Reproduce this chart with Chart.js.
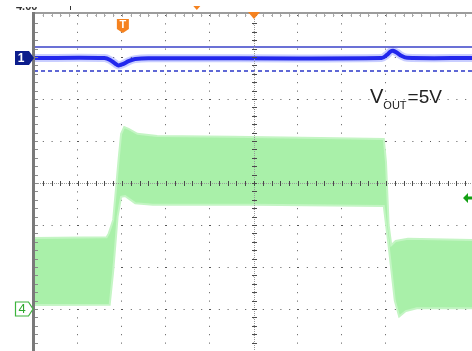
<!DOCTYPE html>
<html><head><meta charset="utf-8">
<script src="https://cdn.jsdelivr.net/npm/chart.js@4"></script>
<style>html,body{margin:0;padding:0;background:#fff;overflow:hidden}</style>
</head><body>
<canvas id="c" width="472" height="351"></canvas>
<script>
// ---- data (time in divisions, level in divisions from bottom of screen) ----
const ch1Time  = [0, 1.60, 1.73, 1.85, 1.92, 2.02, 2.15, 2.30, 2.60, 7.90, 8.02, 8.10, 8.16, 8.25, 8.35, 8.48, 9.955];
const ch1Level = [6.976, 6.975, 6.93, 6.84, 6.80, 6.83, 6.90, 6.95, 6.97, 6.976, 7.05, 7.13, 7.15, 7.10, 7.03, 6.98, 6.976];
const ch4UpperTime  = [0, 1.65, 1.70, 1.80, 1.93, 1.98, 2.05, 2.15, 2.35, 2.80, 4.50, 6.50, 7.95, 8.00, 8.06, 8.12, 8.22, 8.50, 9.955];
const ch4UpperLevel = [2.69, 2.71, 2.80, 3.12, 4.64, 5.17, 5.33, 5.29, 5.17, 5.12, 5.10, 5.07, 5.05, 4.50, 3.00, 2.52, 2.62, 2.67, 2.64];
const ch4LowerTime  = [0, 1.72, 1.80, 1.90, 1.98, 2.07, 2.30, 2.70, 5.00, 7.95, 8.05, 8.20, 8.30, 8.45, 8.70, 9.955];
const ch4LowerLevel = [1.095, 1.10, 1.90, 3.20, 3.67, 3.69, 3.52, 3.48, 3.48, 3.45, 2.60, 1.20, 0.82, 0.95, 1.02, 1.02];
const cursorSolid = 7.238;   // upper cursor line of channel 1
const cursorDashed = 6.667;  // lower cursor line of channel 1
const ch1Ground = 6.976, ch4Ground = 1.0, trigTime = 2.02, trigLevel = 3.643, trigPos = 5, delayMark = 3.70;
const xMax = 9.955, yMax = 8;
const label = {main: 'V', sub: 'OUT', rest: '=5V'};
const cornerText = '4.00';

const pts = (t, v) => t.map((x, i) => ({x, y: v[i]}));
const flat = (lvl) => [{x: 0, y: lvl}, {x: xMax, y: lvl}];

const scope = {
  id: 'scope',
  afterDraw(chart) {
    const ctx = chart.ctx, xs = chart.scales.x, ys = chart.scales.y, a = chart.chartArea;
    const X = v => xs.getPixelForValue(v), Y = v => ys.getPixelForValue(v);
    ctx.save();
    // centre graticule lines
    const cx = Math.round(X(5)) + 0.5, cy = Math.round(Y(4)) + 0.5;
    ctx.lineWidth = 1; ctx.strokeStyle = '#9a9a9a'; ctx.setLineDash([1, 1]);
    ctx.beginPath(); ctx.moveTo(cx, a.top); ctx.lineTo(cx, a.bottom); ctx.moveTo(a.left, cy); ctx.lineTo(a.right, cy); ctx.stroke();
    ctx.setLineDash([]); ctx.strokeStyle = '#4a4a4a';
    ctx.beginPath();
    for (let v = 0; v <= yMax + 0.01; v += 0.2) { const y = Math.round(Y(v)) + 0.5; ctx.moveTo(cx - 2.5, y); ctx.lineTo(cx + 2.5, y); }
    for (let t = 0; t <= xMax; t += 0.2) { const x = Math.round(X(t)) + 0.5; ctx.moveTo(x, cy - 2.5); ctx.lineTo(x, cy + 2.5); }
    ctx.stroke();
    // frame: top bar and left bar with ruler ticks
    ctx.fillStyle = '#9c9c9c'; ctx.fillRect(a.left - 2, a.top - 3, a.right - a.left + 2, 2);
    ctx.strokeStyle = '#a8a8a8';
    ctx.beginPath();
    for (let t = 0.2; t <= xMax; t += 0.2) { const x = Math.round(X(t)) + 0.5; ctx.moveTo(x, a.top - 1); ctx.lineTo(x, a.top + 2); }
    ctx.stroke();
    ctx.fillStyle = '#7a7a7a'; ctx.fillRect(a.left - 2, a.top - 3, 3, a.bottom - a.top + 3);
    ctx.strokeStyle = '#8a8a8a';
    ctx.beginPath();
    for (let v = 0; v <= yMax; v += 0.2) { const y = Math.round(Y(v)) + 0.5; ctx.moveTo(a.left + 1, y); ctx.lineTo(a.left + 4, y); }
    ctx.stroke();
    // channel 1 marker
    let y = Y(ch1Ground);
    ctx.fillStyle = '#0c1d8c';
    ctx.beginPath(); ctx.moveTo(15, y - 7); ctx.lineTo(29, y - 7); ctx.lineTo(34, y); ctx.lineTo(29, y + 7); ctx.lineTo(15, y + 7); ctx.closePath(); ctx.fill();
    ctx.fillStyle = '#fff'; ctx.font = 'bold 12px "Liberation Sans", Arial'; ctx.textAlign = 'center'; ctx.textBaseline = 'middle';
    ctx.fillText('1', 21, y + 0.5);
    // channel 4 marker
    y = Y(ch4Ground);
    ctx.fillStyle = '#fff'; ctx.strokeStyle = '#3cb43c'; ctx.lineWidth = 1.2;
    ctx.beginPath(); ctx.moveTo(15.5, y - 7); ctx.lineTo(28.5, y - 7); ctx.lineTo(33, y); ctx.lineTo(28.5, y + 7); ctx.lineTo(15.5, y + 7); ctx.closePath(); ctx.fill(); ctx.stroke();
    ctx.fillStyle = '#2ea82e'; ctx.font = '13px "Liberation Sans", Arial';
    ctx.fillText('4', 22, y + 0.5);
    // trigger "T" marker
    const tx = X(trigTime);
    ctx.fillStyle = '#f5821f';
    ctx.beginPath(); ctx.moveTo(tx - 6, 19); ctx.lineTo(tx + 6, 19); ctx.lineTo(tx + 6, 29); ctx.lineTo(tx, 33); ctx.lineTo(tx - 6, 29); ctx.closePath(); ctx.fill();
    ctx.fillStyle = '#fff'; ctx.font = 'bold 11px "Liberation Sans", Arial';
    ctx.fillText('T', tx, 25);
    // trigger position triangle
    const px = X(trigPos);
    ctx.fillStyle = '#f5821f';
    ctx.beginPath(); ctx.moveTo(px - 6, 12); ctx.lineTo(px + 6, 12); ctx.lineTo(px, 19); ctx.closePath(); ctx.fill();
    const dx = X(delayMark);
    ctx.beginPath(); ctx.moveTo(dx - 3.5, 6); ctx.lineTo(dx + 3.5, 6); ctx.lineTo(dx, 10); ctx.closePath(); ctx.fill();
    // trigger level arrow
    y = Y(trigLevel);
    ctx.fillStyle = '#14a014';
    ctx.beginPath(); ctx.moveTo(463, y); ctx.lineTo(468, y - 5); ctx.lineTo(468, y - 1.5); ctx.lineTo(472, y - 1.5); ctx.lineTo(472, y + 1.5); ctx.lineTo(468, y + 1.5); ctx.lineTo(468, y + 5); ctx.closePath(); ctx.fill();
    // label
    ctx.fillStyle = '#222'; ctx.textAlign = 'left'; ctx.textBaseline = 'alphabetic';
    ctx.font = '20px "Liberation Sans", Arial';
    ctx.fillText(label.main, 370, 103);
    const w1 = ctx.measureText(label.main).width;
    ctx.font = '11px "Liberation Sans", Arial';
    ctx.fillText(label.sub, 370 + w1, 109);
    const w2 = ctx.measureText(label.sub).width;
    ctx.font = '19px "Liberation Sans", Arial';
    ctx.fillText(label.rest, 370 + w1 + w2 + 1, 103);
    // clipped corner text
    ctx.save(); ctx.beginPath(); ctx.rect(0, 7, 60, 4); ctx.clip();
    ctx.fillStyle = '#333'; ctx.font = 'bold 11px "Liberation Sans", Arial';
    ctx.fillText(cornerText, 16, 10);
    ctx.restore();
    ctx.fillStyle = '#333'; ctx.fillRect(70, 6, 1, 4);
    ctx.restore();
  }
};

new Chart(document.getElementById('c'), {
  type: 'scatter',
  data: {
    datasets: [
      {data: pts(ch4UpperTime, ch4UpperLevel), showLine: true, borderColor: '#c4f5c4', borderWidth: 2, pointRadius: 0, fill: false},
      {data: pts(ch4LowerTime, ch4LowerLevel), showLine: true, borderColor: '#c4f5c4', borderWidth: 2, pointRadius: 0, fill: '-1', backgroundColor: '#a9f0a9'},
      {data: flat(cursorSolid), showLine: true, borderColor: '#3a42c8', borderWidth: 1.3, pointRadius: 0},
      {data: flat(cursorDashed), showLine: true, borderColor: '#2a36c8', borderWidth: 1.3, borderDash: [4, 3], pointRadius: 0},
      {data: pts(ch1Time, ch1Level), showLine: true, borderColor: 'rgba(60,80,255,0.28)', borderWidth: 8, pointRadius: 0, tension: 0.3},
      {data: pts(ch1Time, ch1Level), showLine: true, borderColor: '#1818e6', borderWidth: 4, pointRadius: 0, tension: 0.3}
    ]
  },
  options: {
    responsive: false, animation: false, devicePixelRatio: 1,
    layout: {padding: {left: 34, top: 15, right: 0, bottom: 0}},
    plugins: {legend: {display: false}, tooltip: {enabled: false}},
    scales: {
      x: {type: 'linear', min: 0, max: xMax, z: 1,
          ticks: {display: false, stepSize: 1},
          grid: {color: '#555', lineWidth: 1, drawTicks: false},
          border: {display: false, dash: [1, 7.4]}},
      y: {type: 'linear', min: 0, max: yMax, z: 1,
          ticks: {display: false, stepSize: 1},
          grid: {color: '#555', lineWidth: 1, drawTicks: false},
          border: {display: false, dash: [1, 7.8]}}
    }
  },
  plugins: [scope]
});
</script>
</body></html>
